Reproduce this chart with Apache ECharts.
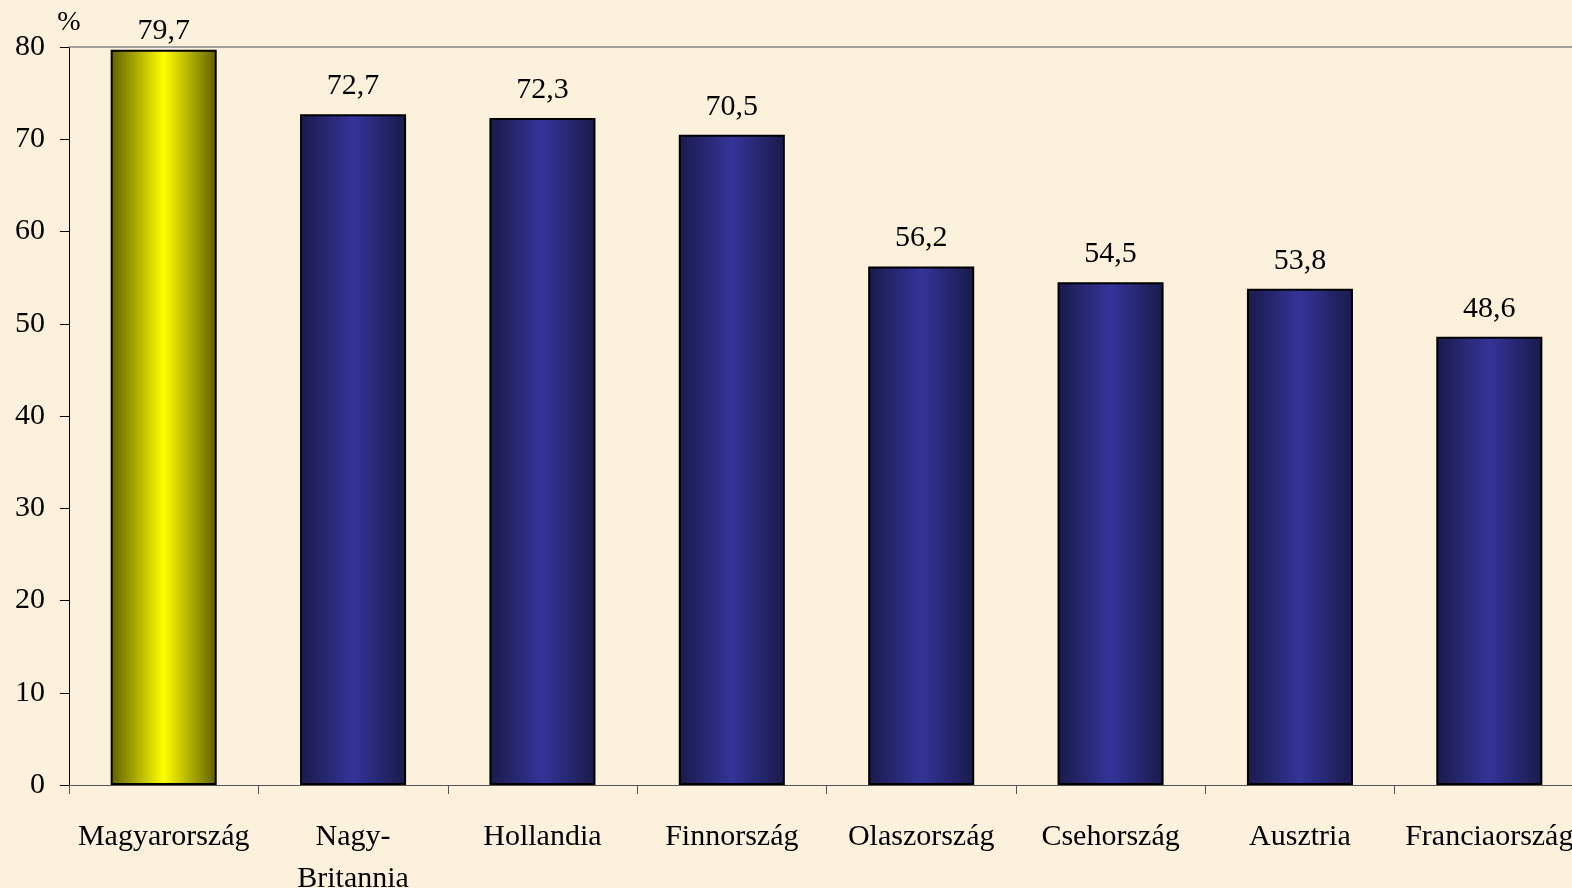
<!DOCTYPE html>
<html>
<head>
<meta charset="utf-8">
<script src="https://cdn.jsdelivr.net/npm/echarts@6/dist/echarts.min.js"></script>
<style>
html,body{margin:0;padding:0;background:#fbf1dc;}
#c{width:1572px;height:888px;}
</style>
</head>
<body>
<div id="c"></div>
<script>
const categories = ['Magyarország', 'Nagy-\nBritannia', 'Hollandia', 'Finnország', 'Olaszország', 'Csehország', 'Ausztria', 'Franciaország'];
const values = [79.7, 72.7, 72.3, 70.5, 56.2, 54.5, 53.8, 48.6];
const highlightIndex = 0;

const font = '"Liberation Serif", "Times New Roman", serif';
function grad(edge, mid) {
  return new echarts.graphic.LinearGradient(0, 0, 1, 0, [
    {offset: 0, color: edge},
    {offset: 0.5, color: mid},
    {offset: 1, color: edge}
  ]);
}
const chart = echarts.init(document.getElementById('c'));
chart.setOption({
  backgroundColor: '#fbf1dc',
  animation: false,
  grid: {left: 69, top: 47, bottom: 103, width: 1515, containLabel: false, outerBoundsMode: 'none'},
  xAxis: [{
    type: 'category',
    data: categories,
    axisLine: {lineStyle: {color: '#555', width: 1}},
    axisTick: {show: true, length: 9, lineStyle: {color: '#555'}},
    axisLabel: {interval: 0, color: '#000', fontFamily: font, fontSize: 30, margin: 31, lineHeight: 42, hideOverlap: false}
  }, {
    type: 'category',
    position: 'top',
    data: categories,
    axisLine: {show: true, lineStyle: {color: '#888', width: 1.5}},
    axisTick: {show: false},
    axisLabel: {show: false}
  }],
  yAxis: {
    type: 'value',
    min: 0, max: 80, interval: 10,
    name: '%',
    nameGap: 10,
    nameTextStyle: {color: '#000', fontFamily: font, fontSize: 28},
    axisLine: {show: true, lineStyle: {color: '#000', width: 1}},
    axisTick: {show: true, length: 9, lineStyle: {color: '#000'}},
    axisLabel: {color: '#000', fontFamily: font, fontSize: 30, margin: 24},
    splitLine: {show: false}
  },
  series: [{
    type: 'bar',
    barWidth: '56%',
    data: values.map((v, i) => ({
      value: v,
      itemStyle: {
        color: i === highlightIndex ? grad('#5e5e00', '#ffff00') : grad('#1a1a4a', '#34349a'),
        borderColor: '#000',
        borderWidth: 2
      },
      label: i === highlightIndex ? {distance: 4} : undefined
    })),
    label: {
      show: true,
      position: 'top',
      distance: 13,
      color: '#000',
      fontFamily: font,
      fontSize: 30,
      formatter: p => String(p.value).replace('.', ',')
    }
  }]
});
</script>
</body>
</html>
